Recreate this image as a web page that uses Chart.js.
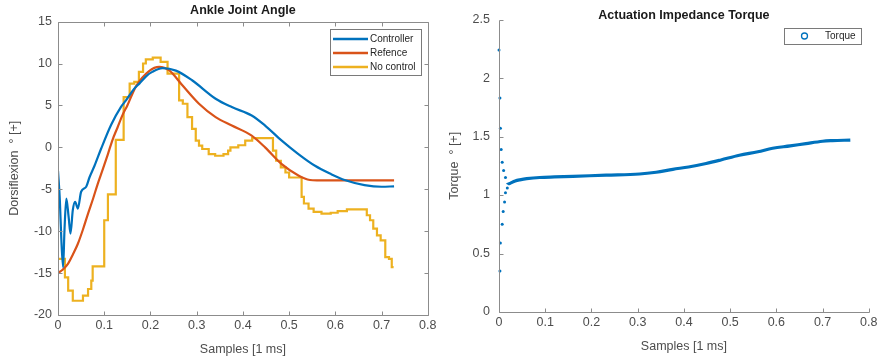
<!DOCTYPE html>
<html>
<head>
<meta charset="utf-8">
<script src="https://cdn.jsdelivr.net/npm/chart.js@4.4.1/dist/chart.umd.min.js"></script>
<style>
body{margin:0;background:#fff;}
#wrap{position:relative;width:881px;height:359px;}
canvas{position:absolute;top:0;}
</style>
</head>
<body>
<div id="wrap">
<canvas id="graficoAngulo" width="440" height="359" style="left:0"></canvas>
<canvas id="graficoTorque" width="441" height="359" style="left:440px"></canvas>
</div>
<script>

// Ankle joint angle - controller
const ctrlX = [0, 0.004, 0.007, 0.011, 0.014, 0.018, 0.023, 0.027, 0.032, 0.037, 0.043, 0.05, 0.061, 0.068, 0.079, 0.093, 0.115, 0.136, 0.147, 0.165, 0.176, 0.191, 0.204, 0.226, 0.255, 0.29, 0.341, 0.376, 0.419, 0.448, 0.484, 0.52, 0.556, 0.591, 0.62, 0.663, 0.7, 0.727];
const ctrlY = [-2.8, -6.3, -10.7, -14.3, -9.9, -6.1, -8.3, -10.3, -7.5, -6.5, -7.3, -5.3, -4.7, -3.6, -2.2, -0.2, 2.7, 4.8, 5.6, 7.0, 7.6, 8.5, 9.0, 9.45, 9.15, 8.0, 5.8, 4.8, 3.8, 2.6, 0.8, -0.8, -2.2, -3.2, -3.9, -4.5, -4.7, -4.65];

// reference
const refX = [0, 0.01, 0.0215, 0.032, 0.043, 0.054, 0.065, 0.076, 0.086, 0.097, 0.108, 0.118, 0.129, 0.14, 0.15, 0.169, 0.197, 0.219, 0.24, 0.269, 0.305, 0.341, 0.376, 0.419, 0.448, 0.484, 0.52, 0.545, 0.56, 0.727];
const refY = [-15, -14.6, -13.9, -12.8, -11.5, -9.8, -7.9, -6.1, -4.35, -2.6, -0.8, 0.9, 2.4, 3.9, 5.0, 7.3, 9.1, 9.6, 9.2, 7.4, 5.2, 3.6, 2.6, 1.4, 0.0, -2.0, -3.35, -3.9, -3.95, -3.95];

// no control (stepped)
const semX = [0, 0.015, 0.022, 0.032, 0.054, 0.065, 0.072, 0.075, 0.1, 0.108, 0.125, 0.142, 0.155, 0.165, 0.175, 0.184, 0.19, 0.205, 0.222, 0.237, 0.262, 0.27, 0.28, 0.29, 0.298, 0.305, 0.312, 0.326, 0.34, 0.358, 0.368, 0.373, 0.39, 0.405, 0.42, 0.465, 0.472, 0.482, 0.492, 0.5, 0.527, 0.532, 0.542, 0.553, 0.57, 0.59, 0.605, 0.625, 0.668, 0.675, 0.682, 0.69, 0.698, 0.708, 0.716, 0.722, 0.726];
const semY = [-13.3, -15.5, -17.1, -18.3, -17.7, -16.9, -15.9, -14.2, -8.7, -5.6, 0.9, 6.0, 7.6, 7.8, 9.0, 10.0, 10.5, 10.7, 10.2, 8.8, 5.6, 5.2, 3.6, 2.2, 0.8, 0.2, -0.2, -0.8, -1.0, -0.8, -0.4, 0.0, 0.25, 0.8, 1.1, -0.4, -1.6, -2.4, -3.0, -3.6, -5.9, -6.7, -7.3, -7.7, -7.9, -7.8, -7.6, -7.4, -8.1, -8.7, -9.7, -10.5, -11.1, -13.1, -13.3, -14.3, -14.3];

// torque: first samples (loose points), then continuous curve
const amostrasX = [0, 0.002, 0.003, 0.0047, 0.0069, 0.010, 0.014, 0.002, 0.003, 0.0069, 0.009, 0.012, 0.014, 0.018];
const amostrasY = [2.24, 1.83, 1.57, 1.39, 1.28, 1.21, 1.15, 0.35, 0.59, 0.75, 0.86, 0.94, 1.02, 1.06];
const torqueX = [0.018, 0.024, 0.035, 0.045, 0.06, 0.088, 0.12, 0.16, 0.232, 0.304, 0.34, 0.376, 0.41, 0.448, 0.48, 0.52, 0.56, 0.592, 0.63, 0.664, 0.7, 0.721, 0.76];
const torqueY = [1.09, 1.10, 1.12, 1.13, 1.14, 1.15, 1.155, 1.16, 1.17, 1.18, 1.195, 1.22, 1.24, 1.27, 1.30, 1.34, 1.37, 1.40, 1.42, 1.44, 1.46, 1.465, 1.47];

const ticksX = {min: 0, max: 0.8, step: 0.1};
const ticksAngulo = {min: -20, max: 15, step: 5};
const ticksTorque = {min: 0, max: 2.5, step: 0.5};


const FONTE = '"Liberation Sans", Arial, Helvetica, sans-serif';
const COR_EIXO = '#8c8c8c';
const COR_TEXTO = '#4d4d4d';
const AZUL = '#0072BD';
const LARANJA = '#D95319';
const AMARELO = '#EDB120';

function pontos(xs, ys){
  return xs.map((x, i) => ({x: x, y: ys[i]}));
}

const px = v => Math.round(v) + 0.5;

// MATLAB-like axes: inward ticks, optional box, legend inside the plot
const eixosMatlab = {
  id: 'eixosMatlab',
  afterDatasetsDraw(chart, args, opts){
    const ctx = chart.ctx;
    const a = chart.chartArea;
    const sx = chart.scales.x, sy = chart.scales.y;
    ctx.save();
    ctx.strokeStyle = COR_EIXO;
    ctx.lineWidth = 1;
    ctx.beginPath();
    ctx.moveTo(px(a.left), px(a.top));
    ctx.lineTo(px(a.left), px(a.bottom));
    ctx.lineTo(px(a.right), px(a.bottom));
    if (opts.caixa){
      ctx.lineTo(px(a.right), px(a.top));
      ctx.lineTo(px(a.left), px(a.top));
    }
    sx.ticks.forEach(t => {
      const p = px(sx.getPixelForValue(t.value));
      ctx.moveTo(p, px(a.bottom)); ctx.lineTo(p, px(a.bottom) - 4);
      if (opts.caixa){ ctx.moveTo(p, px(a.top)); ctx.lineTo(p, px(a.top) + 4); }
    });
    sy.ticks.forEach(t => {
      const p = px(sy.getPixelForValue(t.value));
      ctx.moveTo(px(a.left), p); ctx.lineTo(px(a.left) + 4, p);
      if (opts.caixa){ ctx.moveTo(px(a.right), p); ctx.lineTo(px(a.right) - 4, p); }
    });
    ctx.stroke();

    const L = opts.legenda;
    if (L){
      ctx.fillStyle = '#fff';
      ctx.fillRect(L.x, L.y, L.w, L.h);
      ctx.strokeStyle = '#7a7a7a';
      ctx.strokeRect(px(L.x), px(L.y), L.w, L.h);
      ctx.font = '10px ' + FONTE;
      ctx.textBaseline = 'middle';
      chart.data.datasets.forEach((d, i) => {
        const yy = L.y + L.primeira + i * L.passo;
        ctx.strokeStyle = d.borderColor;
        ctx.beginPath();
        if (L.tipo === 'linha'){
          ctx.lineWidth = 2.5;
          ctx.moveTo(L.x + 3, yy); ctx.lineTo(L.x + 38, yy);
        } else {
          ctx.lineWidth = 1.3;
          ctx.arc(L.x + 20.5, yy, 3, 0, Math.PI * 2);
        }
        ctx.stroke();
        ctx.fillStyle = '#262626';
        ctx.fillText(d.label, L.x + L.texto, yy + 0.5);
      });
    }
    ctx.restore();
  }
};

function fonte(tam, peso){
  return {family: FONTE, size: tam, weight: peso || 'normal'};
}

// 2 -> "2", 2.5 -> "2.5"
const rotulo = v => String(Math.round(v * 100) / 100);

function eixoX(altura, padTitulo){
  return {
    type: 'linear', min: ticksX.min, max: ticksX.max,
    grid: {display: false, drawTicks: false}, border: {display: false},
    ticks: {stepSize: ticksX.step, padding: 3.5, color: COR_TEXTO, font: fonte(12.5), maxRotation: 0, autoSkip: false, callback: rotulo},
    title: {display: true, text: 'Samples [1 ms]', color: COR_TEXTO, font: fonte(12.5), padding: {top: 0, bottom: padTitulo}},
    afterFit(s){ s.height = altura; }
  };
}

function eixoY(lim, titulo, largura, padTicks){
  return {
    type: 'linear', min: lim.min, max: lim.max,
    grid: {display: false, drawTicks: false}, border: {display: false},
    ticks: {stepSize: lim.step, padding: padTicks, color: COR_TEXTO, font: fonte(12.5), autoSkip: false, callback: rotulo},
    title: {display: true, text: titulo, color: COR_TEXTO, font: fonte(12.5), padding: {top: 6.8, bottom: 0}},
    afterFit(s){ s.width = largura; }
  };
}


new Chart(document.getElementById('graficoAngulo'), {
  type: 'line',
  data: {
    datasets: [
      {label: 'Controller', data: pontos(ctrlX, ctrlY), borderColor: AZUL, borderWidth: 2.2, pointRadius: 0, cubicInterpolationMode: 'monotone', fill: false},
      {label: 'Refence', data: pontos(refX, refY), borderColor: LARANJA, borderWidth: 2.2, pointRadius: 0, cubicInterpolationMode: 'monotone', fill: false},
      {label: 'No control', data: pontos(semX, semY), borderColor: AMARELO, borderWidth: 2.2, pointRadius: 0, stepped: 'before', fill: false}
    ]
  },
  options: {
    responsive: false,
    animation: false,
    layout: {padding: {left: 0, right: 11, top: 0, bottom: 0}},
    scales: {
      x: eixoX(44, 1.8),
      y: eixoY(ticksAngulo, 'Dorsiflexion  ° [+]', 58, 6)
    },
    plugins: {
      legend: {display: false},
      tooltip: {enabled: false},
      title: {display: true, fullSize: false, text: 'Ankle Joint Angle', color: '#1a1a1a', font: fonte(12.5, 'bold'), padding: {top: 3, bottom: 3.6}},
      eixosMatlab: {caixa: true, legenda: {tipo: 'linha', x: 330, y: 29, w: 91, h: 46, primeira: 10, passo: 14, texto: 40}}
    }
  },
  plugins: [eixosMatlab]
});


const inicioCurva = amostrasX.length;

new Chart(document.getElementById('graficoTorque'), {
  type: 'line',
  data: {
    datasets: [
      {
        label: 'Torque',
        data: pontos(amostrasX.concat(torqueX), amostrasY.concat(torqueY)),
        borderColor: AZUL, borderWidth: 3.2, fill: false, clip: 4,
        tension: 0.35,
        pointRadius: c => c.dataIndex < inicioCurva ? 1.5 : 0,
        pointBackgroundColor: AZUL, pointBorderWidth: 0,
        segment: {borderColor: c => c.p0DataIndex < inicioCurva ? 'rgba(0,0,0,0)' : AZUL}
      }
    ]
  },
  options: {
    responsive: false,
    animation: false,
    layout: {padding: {left: 0, right: 11, top: 0, bottom: 0}},
    scales: {
      x: eixoX(47, 5.1),
      y: eixoY(ticksTorque, 'Torque  ° [+]', 59, 9)
    },
    plugins: {
      legend: {display: false},
      tooltip: {enabled: false},
      title: {display: true, fullSize: false, text: 'Actuation Impedance Torque', color: '#1a1a1a', font: fonte(12.5, 'bold'), padding: {top: 8, bottom: -3.4}},
      eixosMatlab: {caixa: false, legenda: {tipo: 'circulo', x: 344, y: 28, w: 77, h: 16, primeira: 8, passo: 14, texto: 41}}
    }
  },
  plugins: [eixosMatlab]
});

</script>
</body>
</html>
